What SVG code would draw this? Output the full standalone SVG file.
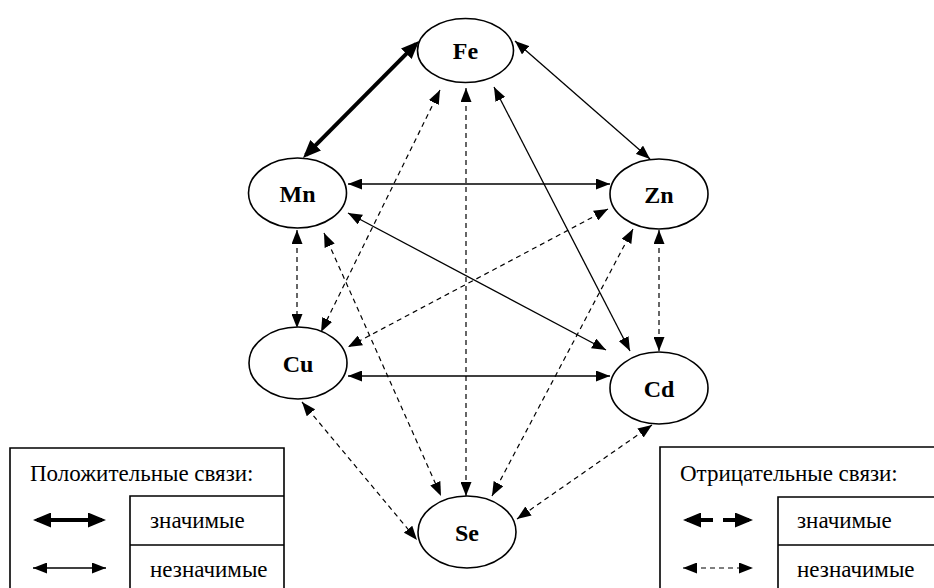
<svg xmlns="http://www.w3.org/2000/svg" width="934" height="588" viewBox="0 0 934 588">
  <style>
    .node ellipse { fill: #fff; stroke: #000; stroke-width: 1.6; }
    .node text { font-family: "Liberation Serif", "DejaVu Serif", serif; font-size: 24px; font-weight: bold; text-anchor: middle; fill: #000; }
    .thin { stroke: #000; stroke-width: 1.3; fill: none; marker-start: url(#ah); marker-end: url(#ah); }
    .dash { stroke: #000; stroke-width: 1.2; fill: none; stroke-dasharray: 5 4; marker-start: url(#ah); marker-end: url(#ah); }
    .thick { stroke: #000; stroke-width: 4; fill: none; marker-start: url(#ahb); marker-end: url(#ahb); }
    .box { fill: none; stroke: #000; stroke-width: 1.6; }
    .lg { font-family: "Liberation Serif", "DejaVu Serif", serif; font-size: 23px; fill: #000; }
  </style>
  <defs>
    <marker id="ah" markerUnits="userSpaceOnUse" markerWidth="14" markerHeight="11" viewBox="0 0 14 11" refX="14" refY="5.5" orient="auto-start-reverse">
      <path d="M0,0 L14,5.5 L0,11 Z" fill="#000"/>
    </marker>
    <marker id="ahb" markerUnits="userSpaceOnUse" markerWidth="18" markerHeight="15" viewBox="0 0 18 15" refX="14" refY="7.5" orient="auto-start-reverse">
      <path d="M0,0 L18,7.5 L0,15 Z" fill="#000"/>
    </marker>
  </defs>

  <rect width="934" height="588" fill="#fff"/>

  <!-- connectors -->
  <g id="connectors">
    <line class="thick" x1="416.2" y1="43.8" x2="305.8" y2="155.2"/>
    <line class="thin" x1="515" y1="41" x2="650" y2="159"/>
    <line class="thin" x1="494" y1="87" x2="630" y2="351"/>
    <line class="thin" x1="348" y1="213" x2="606" y2="350"/>
    <line class="thin" x1="348" y1="184" x2="610" y2="184"/>
    <line class="thin" x1="348" y1="376" x2="610" y2="376"/>
    <line class="dash" x1="297" y1="230" x2="297" y2="328"/>
    <line class="dash" x1="659" y1="230" x2="659" y2="351"/>
    <line class="dash" x1="466" y1="88" x2="466" y2="496"/>
    <line class="dash" x1="440" y1="90" x2="321" y2="332"/>
    <line class="dash" x1="324" y1="233" x2="441" y2="496"/>
    <line class="dash" x1="608" y1="209" x2="348" y2="347"/>
    <line class="dash" x1="633" y1="229" x2="492" y2="496"/>
    <line class="dash" x1="302" y1="402" x2="417" y2="540"/>
    <line class="dash" x1="652" y1="425" x2="517" y2="519"/>
  </g>

  <!-- nodes -->
  <g id="node-fe" class="node">
    <ellipse cx="465.5" cy="50.5" rx="48" ry="32"/>
    <text x="465.5" y="59">Fe</text>
  </g>
  <g id="node-mn" class="node">
    <ellipse cx="297.5" cy="193" rx="49" ry="35"/>
    <text x="297.5" y="202">Mn</text>
  </g>
  <g id="node-zn" class="node">
    <ellipse cx="659" cy="194" rx="49" ry="35"/>
    <text x="659" y="203">Zn</text>
  </g>
  <g id="node-cu" class="node">
    <ellipse cx="298" cy="363" rx="49" ry="36"/>
    <text x="298" y="372">Cu</text>
  </g>
  <g id="node-cd" class="node">
    <ellipse cx="659" cy="388" rx="49" ry="36"/>
    <text x="659" y="397">Cd</text>
  </g>
  <g id="node-se" class="node">
    <ellipse cx="467" cy="532" rx="49" ry="36"/>
    <text x="467" y="541">Se</text>
  </g>

  <!-- legend: positive links -->
  <g id="legend-positive">
    <path class="box" d="M10,600 V448 H284 V600"/>
    <path class="box" d="M130,600 V496 H284 M130,545 H284"/>
    <text class="lg" x="30" y="481">Положительные связи:</text>
    <line class="thick" x1="37" y1="520" x2="102" y2="520"/>
    <text class="lg" x="150" y="528">значимые</text>
    <line class="thin" x1="33" y1="568" x2="106" y2="568"/>
    <text class="lg" x="150" y="577">незначимые</text>
  </g>

  <!-- legend: negative links -->
  <g id="legend-negative">
    <path class="box" d="M660,600 V447 H940"/>
    <path class="box" d="M778,600 V497 H940 M778,545 H940"/>
    <text class="lg" x="680" y="481">Отрицательные связи:</text>
    <line stroke="#000" stroke-width="4" marker-start="url(#ahb)" x1="687" y1="520" x2="713" y2="520"/>
    <line stroke="#000" stroke-width="4" marker-end="url(#ahb)" x1="723" y1="520" x2="749" y2="520"/>
    <text class="lg" x="797" y="528">значимые</text>
    <line class="dash" x1="683" y1="568" x2="753" y2="568"/>
    <text class="lg" x="797" y="577">незначимые</text>
  </g>
</svg>
